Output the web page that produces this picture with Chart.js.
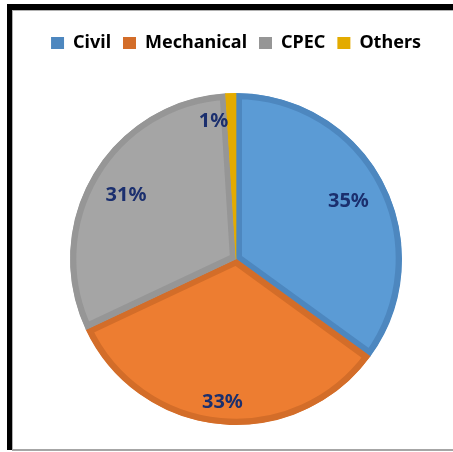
<!DOCTYPE html>
<html>
<head>
<meta charset="utf-8">
<script src="https://cdn.jsdelivr.net/npm/chart.js@4.4.0/dist/chart.umd.min.js"></script>
<style>
  html, body { margin: 0; padding: 0; background: #fff; overflow: hidden; }
  #wrap { position: relative; width: 453px; height: 452px; }
  #chart-share { position: absolute; left: 0; top: 0; }
  #frame { position: absolute; left: 7px; top: 4px; width: 446px; height: 446px;
    border-top: 6px solid #000; border-left: 5px solid #000; box-sizing: border-box; pointer-events: none; }
  #frame-inner { position: absolute; left: 0; top: 0; right: 0; bottom: 0;
    border-top: 1px solid #b0b0b0; border-left: 1px solid #b0b0b0; }
  #frame-bottom { position: absolute; left: 12px; top: 449px; width: 441px; height: 2px; background: #a6a6a6; }
</style>
</head>
<body>
<div id="wrap">
  <canvas id="chart-share" width="453" height="452"></canvas>
  <div id="frame"><div id="frame-inner"></div></div>
  <div id="frame-bottom"></div>
</div>
<script>
var categories = ['Civil', 'Mechanical', 'CPEC', 'Others'];
var shares = [35, 33, 31, 1];
var fillColors = ['#5b9bd5', '#ed7d31', '#a5a5a5', '#ffc000'];
var rimColors = ['#4d87bf', '#d36d29', '#969696', '#e3ab00'];

// puts the xx% text inside each slice
var sliceLabels = {
  id: 'sliceLabels',
  afterDatasetsDraw: function(chart, args, opts) {
    var ctx = chart.ctx;
    var arcs = chart.getDatasetMeta(0).data;
    ctx.save();
    ctx.font = 'bold 20px "Noto Sans"';
    ctx.fillStyle = '#1b2f6e';
    ctx.textAlign = 'center';
    ctx.textBaseline = 'middle';
    arcs.forEach(function(arc, i) {
      var p = arc.getProps(['x', 'y', 'startAngle', 'endAngle', 'outerRadius'], true);
      var mid = (p.startAngle + p.endAngle) / 2;
      var r = p.outerRadius * opts.radius[i];
      var x = p.x + Math.cos(mid) * r + opts.shiftX[i];
      var y = p.y + Math.sin(mid) * r + opts.shiftY[i];
      ctx.fillText(shares[i] + '%', x, y);
    });
    ctx.restore();
  }
};

// extra room between legend and pie
var legendSpacer = {
  id: 'legendSpacer',
  beforeInit: function(chart) {
    var fit = chart.legend.fit;
    chart.legend.fit = function() {
      fit.call(this);
      this.height += 31;
    };
  }
};

document.addEventListener('DOMContentLoaded', function() {
  var ctx = document.getElementById('chart-share').getContext('2d');
  new Chart(ctx, {
    type: 'pie',
    data: {
      labels: categories,
      datasets: [{
        data: shares,
        backgroundColor: fillColors,
        borderColor: rimColors,
        borderWidth: 6,
        borderAlign: 'inner'
      }]
    },
    options: {
      responsive: false,
      animation: false,
      layout: { padding: { top: 22, bottom: 27, left: 19, right: 0 } },
      plugins: {
        tooltip: { enabled: false },
        legend: {
          position: 'top',
          labels: {
            color: '#000',
            font: { family: '"Noto Sans"', size: 18, weight: 'bold' },
            boxWidth: 13,
            boxHeight: 12,
            padding: 12,
            generateLabels: function(chart) {
              return categories.map(function(c, i) {
                return { text: c, fillStyle: rimColors[i], strokeStyle: rimColors[i], lineWidth: 0, index: i, hidden: false };
              });
            }
          }
        },
        sliceLabels: {
          radius: [0.76, 0.87, 0.77, 0.85],
          shiftX: [0, 0, 0, -18],
          shiftY: [0, 0, 1, 3]
        }
      }
    },
    plugins: [legendSpacer, sliceLabels]
  });
});
</script>
</body>
</html>
